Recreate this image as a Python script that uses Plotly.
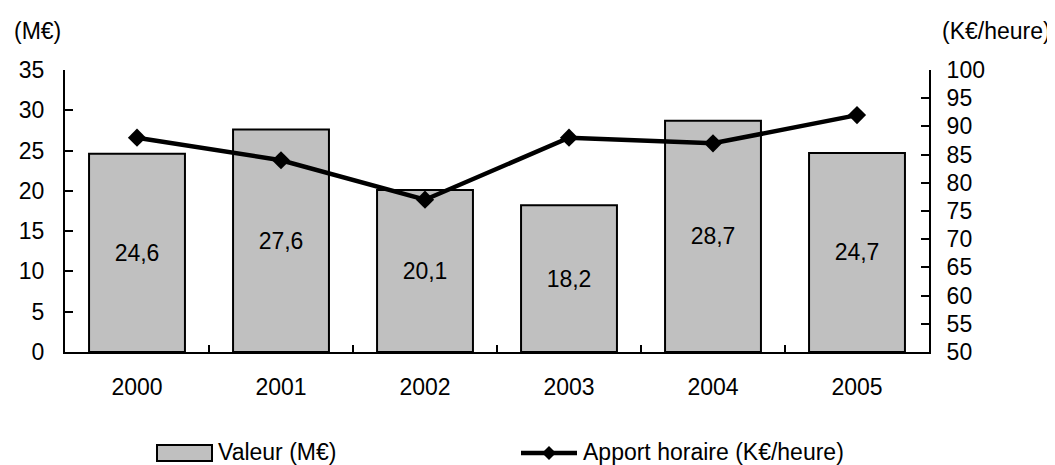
import plotly.graph_objects as go

years = ["2000", "2001", "2002", "2003", "2004", "2005"]
valeur = [24.6, 27.6, 20.1, 18.2, 28.7, 24.7]
apport = [88, 84, 77, 88, 87, 92]
left_title = "(M€)"
right_title = "(K€/heure)"
bar_name = "Valeur (M€)"
line_name = "Apport horaire (K€/heure)"

OFF = 8  # default page body margin
W, H = 1055 - OFF, 465 - OFF
L, T = 65 - OFF, 70 - OFF
PR, PB = 929 - OFF, 352 - OFF
R, B = W - PR, H - PB
PW, PH = PR - L, PB - T
FONT = "Liberation Sans, Arial, sans-serif"
FS = 23


def px(p):
    return (p - OFF - L) / PW


def py(q):
    return (PB - (q - OFF)) / PH


fig = go.Figure()
fig.add_trace(go.Bar(
    x=years, y=valeur, name=bar_name,
    marker=dict(color="#c0c0c0", line=dict(color="black", width=2)),
    texttemplate="%{y:.1f}", textposition="inside", insidetextanchor="middle",
    textangle=0, constraintext="none",
    textfont=dict(family=FONT, size=FS, color="black"),
    showlegend=False,
))
fig.add_trace(go.Scatter(
    x=years, y=apport, name=line_name, yaxis="y2", mode="lines+markers",
    line=dict(color="black", width=4.5),
    marker=dict(symbol="diamond", size=14, color="black"),
    showlegend=False,
))

axis_common = dict(showgrid=False, zeroline=False, showline=True, linecolor="black",
                   linewidth=2, ticks="inside", tickcolor="black", tickwidth=2,
                   tickfont=dict(family=FONT, size=FS, color="black"))

fig.update_layout(
    width=W, height=H,
    margin=dict(l=L, r=R, t=T, b=B),
    paper_bgcolor="white", plot_bgcolor="white",
    separators=", ",
    bargap=0.334,
    font=dict(family=FONT, size=FS, color="black"),
    xaxis=dict(**axis_common, type="category", tickson="boundaries", ticklen=7,
               ticklabelstandoff=13),
    yaxis=dict(**axis_common, range=[0, 35], dtick=5, ticklen=8, ticklabelstandoff=14),
    yaxis2=dict(**axis_common, range=[50, 100], dtick=5, ticklen=8, overlaying="y",
                side="right", ticklabelstandoff=11),
)

annotations = [
    dict(text=left_title, x=px(37), y=py(31), xanchor="center", yanchor="middle"),
    dict(text=right_title, x=px(996), y=py(31), xanchor="center", yanchor="middle"),
    dict(text=bar_name, x=px(216), y=py(452), xanchor="left", yanchor="middle"),
    dict(text=line_name, x=px(581), y=py(452), xanchor="left", yanchor="middle"),
]
for a in annotations:
    a.update(xref="paper", yref="paper", showarrow=False,
             font=dict(family=FONT, size=FS, color="black"))
fig.update_layout(annotations=annotations)

shapes = [
    dict(type="rect", x0=px(157), x1=px(212), y0=py(445), y1=py(461),
         fillcolor="#c0c0c0", line=dict(color="black", width=2)),
    dict(type="line", x0=px(521), x1=px(577), y0=py(453), y1=py(453),
         line=dict(color="black", width=4.5)),
    dict(type="path",
         path=f"M {px(549-7)},{py(453)} L {px(549)},{py(453-7)} L {px(549+7)},{py(453)} L {px(549)},{py(453+7)} Z",
         fillcolor="black", line=dict(color="black", width=0)),
]
for s in shapes:
    s.update(xref="paper", yref="paper")
fig.update_layout(shapes=shapes)

fig.write_html("out.html")
